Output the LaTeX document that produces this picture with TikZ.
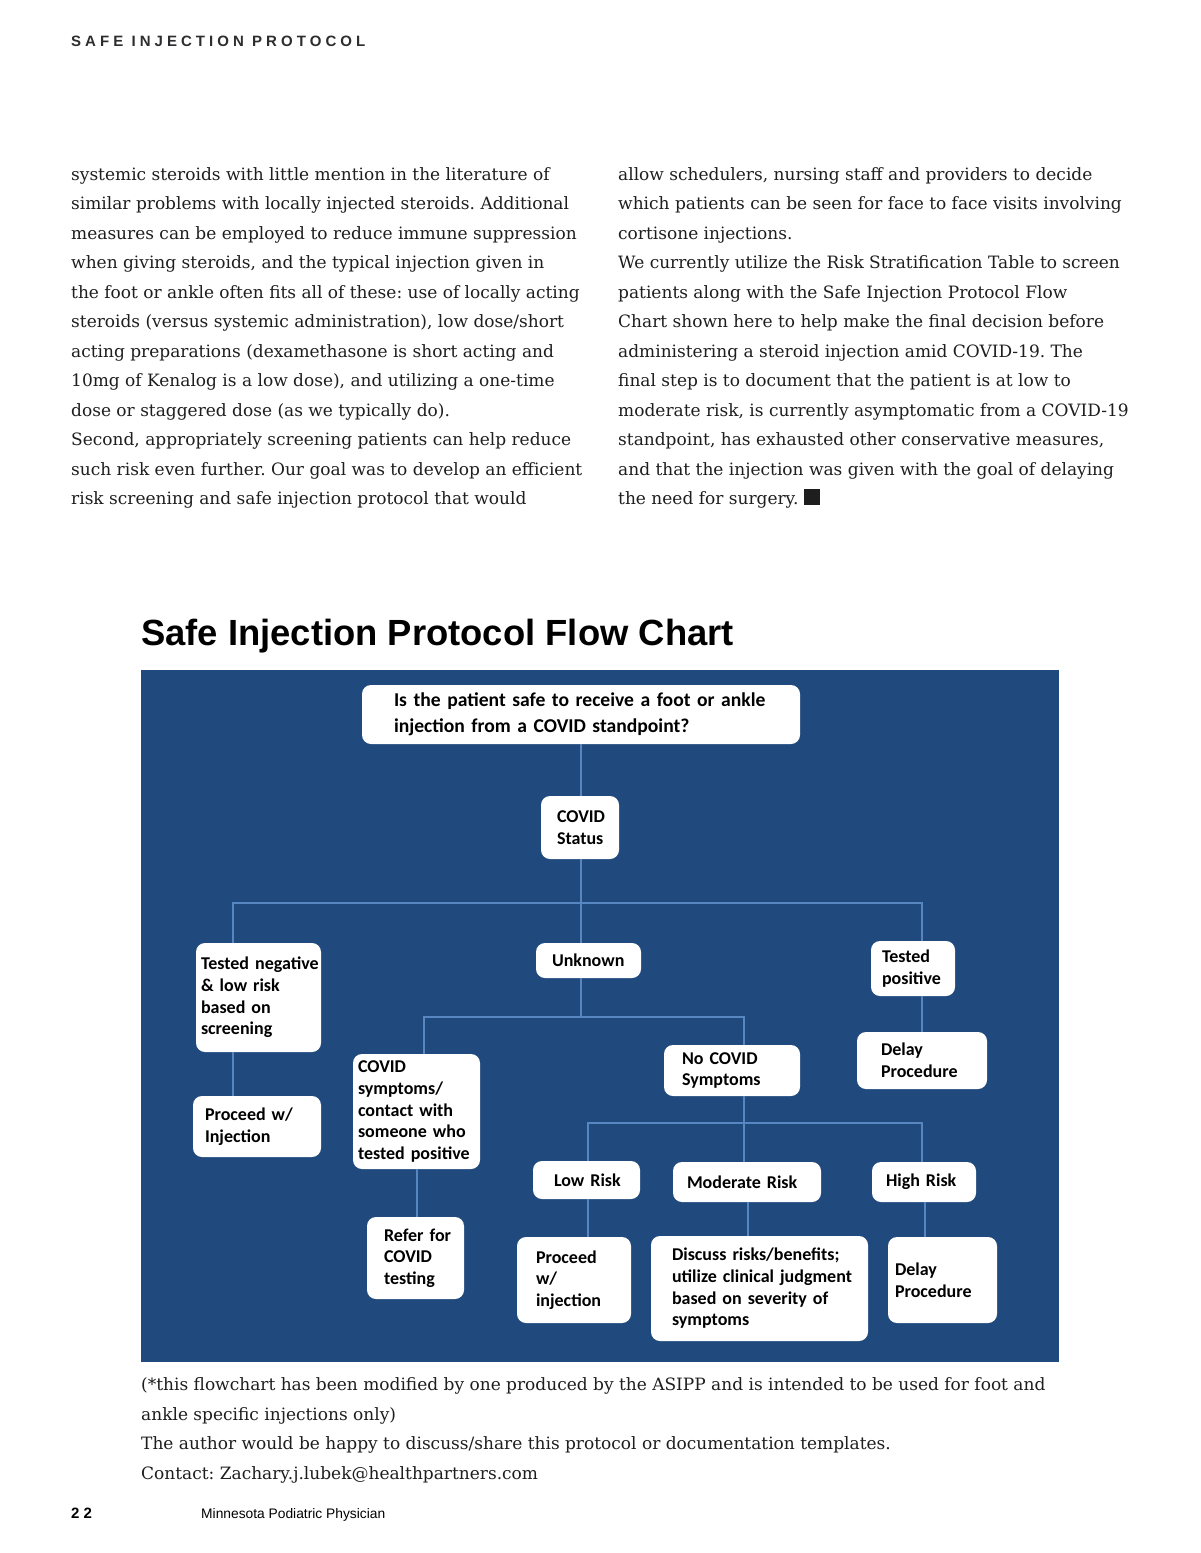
\documentclass[tikz,border=0pt]{standalone}
\usepackage{fontspec}
\setmainfont{DejaVu Serif}
\newfontfamily\chartfont{Carlito}
\newfontfamily\sansfont{Liberation Sans}
\newfontfamily\spacedfont[LetterSpace=27]{Liberation Sans}
\definecolor{chartbg}{RGB}{32,74,126}
\definecolor{connblue}{RGB}{88,134,192}
\definecolor{hdgray}{RGB}{45,45,48}
\definecolor{bodyblack}{RGB}{30,30,30}
\newcommand\chbox[8]{%
  \pgfmathsetmacro\chbw{#4-#2-2*#6}%
  \pgfmathsetmacro\chbh{#5-#3}%
  \pgfmathsetmacro\chcx{(#2+#4)/2}%
  \pgfmathsetmacro\chcy{(#3+#5)/2}%
  \node[cbox,#7, minimum height=\chbh pt, text width=\chbw pt, inner xsep=#6 pt] (#1) at (\chcx,\chcy) {#8};}
\newcommand\bodyline[4]{\node[bodytxt] (#1) at (#2,#3) {#4};}
\begin{document}
\frenchspacing
\begin{tikzpicture}[x=1pt,y=-1pt,
  cbox/.style={fill=white, draw=none, rounded corners=9pt, inner ysep=0pt, align=left,
    font=\chartfont\bfseries\fontsize{18}{21.7}\selectfont, text=black},
  conn/.style={draw=connblue, line width=1.3pt},
  bodytxt/.style={anchor=base west, inner sep=0pt, font=\frenchspacing\fontsize{17}{24}\selectfont, text=bodyblack}]
\useasboundingbox (0,0) rectangle (1200,1553);
\fill[white] (0,0) rectangle (1200,1553);

% header
\node[anchor=base west, inner sep=0pt, text=hdgray, font=\spacedfont\bfseries\fontsize{15}{18}\selectfont] (hdr) at (71,46.5) {SAFE INJECTION PROTOCOL};

% left column
\bodyline{l1}{71}{180}{systemic steroids with little mention in the literature of}
\bodyline{l2}{71}{209.5}{similar problems with locally injected steroids. Additional}
\bodyline{l3}{71}{239}{measures can be employed to reduce immune suppression}
\bodyline{l4}{71}{268.5}{when giving steroids, and the typical injection given in}
\bodyline{l5}{71}{298}{the foot or ankle often fits all of these: use of locally acting}
\bodyline{l6}{71}{327.5}{steroids (versus systemic administration), low dose/short}
\bodyline{l7}{71}{357}{acting preparations (dexamethasone is short acting and}
\bodyline{l8}{71}{386.5}{10mg of Kenalog is a low dose), and utilizing a one-time}
\bodyline{l9}{71}{416}{dose or staggered dose (as we typically do).}
\bodyline{l10}{71}{445.5}{Second, appropriately screening patients can help reduce}
\bodyline{l11}{71}{475}{such risk even further. Our goal was to develop an efficient}
\bodyline{l12}{71}{504.5}{risk screening and safe injection protocol that would}

% right column
\bodyline{r1}{618}{180}{allow schedulers, nursing staff and providers to decide}
\bodyline{r2}{618}{209.5}{which patients can be seen for face to face visits involving}
\bodyline{r3}{618}{239}{cortisone injections.}
\bodyline{r4}{618}{268.5}{We currently utilize the Risk Stratification Table to screen}
\bodyline{r5}{618}{298}{patients along with the Safe Injection Protocol Flow}
\bodyline{r6}{618}{327.5}{Chart shown here to help make the final decision before}
\bodyline{r7}{618}{357}{administering a steroid injection amid COVID-19. The}
\bodyline{r8}{618}{386.5}{final step is to document that the patient is at low to}
\bodyline{r9}{618}{416}{moderate risk, is currently asymptomatic from a COVID-19}
\bodyline{r10}{618}{445.5}{standpoint, has exhausted other conservative measures,}
\bodyline{r11}{618}{475}{and that the injection was given with the goal of delaying}
\bodyline{r12}{618}{504.5}{the need for surgery. \rule{16pt}{16pt}}

% title
\node[anchor=base west, inner sep=0pt, text=black, font=\sansfont\bfseries\fontsize{36.4}{40}\selectfont] (title) at (141,645) {Safe Injection Protocol Flow Chart};

% chart background
\fill[chartbg] (141,670) rectangle (1059,1362);

% boxes
\chbox{q}{362}{685}{800}{744}{32}{font=\chartfont\bfseries\fontsize{19.6}{26}\selectfont}{\mbox{Is the patient safe to receive a foot or ankle}\\\mbox{injection from a COVID standpoint?}}
\chbox{status}{541}{796}{619}{859}{16}{}{\mbox{COVID}\\\mbox{Status}}
\chbox{neg}{196}{943}{321}{1052}{5}{}{\mbox{Tested negative}\\\mbox{\& low risk}\\\mbox{based on}\\\mbox{screening}}
\chbox{unk}{536}{943}{641}{978}{16}{}{\mbox{Unknown}}
\chbox{tpos}{871}{941}{955}{996}{11}{}{\mbox{Tested}\\\mbox{positive}}
\chbox{pw}{193}{1096}{321}{1157}{12}{}{\mbox{Proceed w/}\\\mbox{Injection}}
\chbox{sym}{353}{1054}{480}{1169}{5}{}{\mbox{COVID}\\\mbox{symptoms/}\\\mbox{contact with}\\\mbox{someone who}\\\mbox{tested positive}}
\chbox{nocov}{664}{1045}{800}{1096}{18}{}{\mbox{No COVID}\\\mbox{Symptoms}}
\chbox{dly1}{857}{1032}{987}{1089}{24}{}{\mbox{Delay}\\\mbox{Procedure}}
\chbox{low}{533}{1161}{640}{1199}{21}{}{\mbox{Low Risk}}
\chbox{mod}{673}{1162}{821}{1202}{14}{}{\mbox{Moderate Risk}}
\chbox{high}{872}{1162}{976}{1202}{14}{}{\mbox{High Risk}}
\chbox{ref}{367}{1217}{464}{1299}{17}{}{\mbox{Refer for}\\\mbox{COVID}\\\mbox{testing}}
\chbox{proc}{517}{1237}{631}{1323}{19}{}{\mbox{Proceed}\\\mbox{w/}\\\mbox{injection}}
\chbox{disc}{651}{1236}{868}{1341}{21}{}{\mbox{Discuss risks/benefits;}\\\mbox{utilize clinical judgment}\\\mbox{based on severity of}\\\mbox{symptoms}}
\chbox{dly2}{888}{1237}{997}{1323}{7}{}{\mbox{Delay}\\\mbox{Procedure}}

% junction coordinates
\coordinate (bL) at (233,903);
\coordinate (bM) at (581,903);
\coordinate (bR) at (922,903);
\coordinate (uL) at (424,1017);
\coordinate (uM) at (581,1017);
\coordinate (uR) at (744,1017);
\coordinate (nL) at (588,1123);
\coordinate (nM) at (744,1123);
\coordinate (nR) at (922,1123);
\coordinate (xS) at (417,0);
\coordinate (xD) at (748,0);
\coordinate (xH) at (925,0);

% connectors
\draw[conn] (bM |- q.south) -- (bM |- status.north);
\draw[conn] (bM |- status.south) -- (bM |- unk.north);
\draw[conn] (bL |- neg.north) -- (bL) -- (bR) -- (bR |- tpos.north);
\draw[conn] (bL |- neg.south) -- (bL |- pw.north);
\draw[conn] (bR |- tpos.south) -- (bR |- dly1.north);
\draw[conn] (uM |- unk.south) -- (uM);
\draw[conn] (uL |- sym.north) -- (uL) -- (uR) -- (uR |- nocov.north);
\draw[conn] (xS |- sym.south) -- (xS |- ref.north);
\draw[conn] (nM |- nocov.south) -- (nM |- mod.north);
\draw[conn] (nL |- low.north) -- (nL) -- (nR) -- (nR |- high.north);
\draw[conn] (nL |- low.south) -- (nL |- proc.north);
\draw[conn] (xD |- mod.south) -- (xD |- disc.north);
\draw[conn] (xH |- high.south) -- (xH |- dly2.north);

% caption
\bodyline{c1}{141}{1390.5}{(*this flowchart has been modified by one produced by the ASIPP and is intended to be used for foot and}
\bodyline{c2}{141}{1420}{ankle specific injections only)}
\bodyline{c3}{141}{1449.5}{The author would be happy to discuss/share this protocol or documentation templates.}
\bodyline{c4}{141}{1479}{Contact: Zachary.j.lubek@healthpartners.com}

% footer
\node[anchor=base west, inner sep=0pt, text=black, font=\spacedfont\bfseries\fontsize{15}{18}\selectfont] (pg) at (71,1518.5) {22};
\node[anchor=base west, inner sep=0pt, text=black, font=\sansfont\fontsize{13.8}{16}\selectfont] (mag) at (201,1518) {Minnesota Podiatric Physician};
\end{tikzpicture}
\end{document}
